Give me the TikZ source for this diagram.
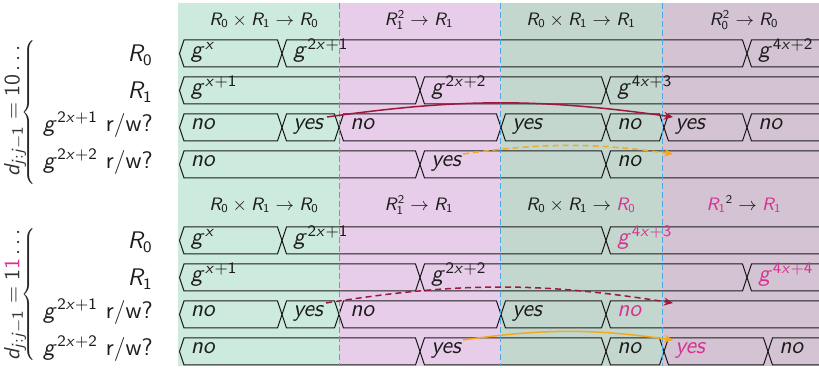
\documentclass[tikz,border=0pt]{standalone}
\usepackage{graphicx}
\usetikzlibrary{arrows.meta}

% sans-serif letters and digits in math, as on slides
\DeclareSymbolFont{sfslanted}{OT1}{cmss}{m}{sl}
\DeclareSymbolFont{sfupright}{OT1}{cmss}{m}{n}
\DeclareMathSymbol{g}{\mathalpha}{sfslanted}{`g}
\DeclareMathSymbol{x}{\mathalpha}{sfslanted}{`x}
\DeclareMathSymbol{R}{\mathalpha}{sfslanted}{`R}
\DeclareMathSymbol{d}{\mathalpha}{sfslanted}{`d}
\DeclareMathSymbol{j}{\mathalpha}{sfslanted}{`j}
\DeclareMathSymbol{0}{\mathalpha}{sfupright}{`0}
\DeclareMathSymbol{1}{\mathalpha}{sfupright}{`1}
\DeclareMathSymbol{2}{\mathalpha}{sfupright}{`2}
\DeclareMathSymbol{3}{\mathalpha}{sfupright}{`3}
\DeclareMathSymbol{4}{\mathalpha}{sfupright}{`4}

\definecolor{colA}{RGB}{205,234,222}
\definecolor{colB}{RGB}{232,205,234}
\definecolor{colC}{RGB}{195,215,207}
\definecolor{colD}{RGB}{211,195,211}
\definecolor{ink}{RGB}{28,28,28}
\definecolor{hot}{RGB}{214,50,145}
\definecolor{wine}{RGB}{160,25,60}
\definecolor{amber}{RGB}{242,170,30}
\definecolor{sky}{RGB}{70,170,225}

\newcommand\bigsans{\fontsize{12}{14}\selectfont\sffamily}
\newcommand\smallsans{\fontsize{9}{11}\selectfont\sffamily}

% one closed bus segment between two transition points
\newcommand\busseg[3]{%
  \draw[busline] ({#2},{#1}) -- ({#2+4.5},{#1-13.5}) -- ({#3-4.5},{#1-13.5})
    -- ({#3},{#1}) -- ({#3-4.5},{#1+13.5}) -- ({#2+4.5},{#1+13.5}) -- cycle;}
% last bus segment, running off the right edge
\newcommand\bustail[2]{%
  \draw[busline] (830,{#1-13.5}) -- ({#2+4.5},{#1-13.5}) -- ({#2},{#1})
    -- ({#2+4.5},{#1+13.5}) -- (830,{#1+13.5});}
% value printed in a bus segment: #1 name, #2 row centre, #3 segment start, #4 text
\newcommand\busval[4]{\node[bustext] (#1) at ({#3+11},{#2+4.5}) {#4};}
\newcommand\busword[4]{\node[bustext] (#1) at ({#3+11},{#2+2.5}) {\itshape #4};}

\begin{document}
\begin{tikzpicture}[x=0.5pt,y=-0.5pt,
  busline/.style={draw=ink, line width=0.5pt, line join=miter},
  bustext/.style={anchor=base west, inner sep=0pt, text=ink, font=\bigsans},
  rowlabel/.style={anchor=base east, inner sep=0pt, text=ink, font=\bigsans},
  header/.style={anchor=base, inner sep=0pt, text=ink, font=\smallsans},
  sidelabel/.style={rotate=90, inner sep=0pt, text=black!80, font=\fontsize{11}{13}\selectfont},
  bracebox/.style={anchor=east, inner sep=0pt, text=black!85},
  divider/.style={sky, line width=0.5pt, dash pattern=on 3pt off 1.5pt},
  flow/.style={line width=0.75pt, -{Stealth[length=4.5pt,width=4pt]}},
  flowdash/.style={flow, dash pattern=on 3pt off 2pt},
]
\useasboundingbox (0,0) rectangle (819,368);

% column backgrounds
\fill[colA] (178,3) rectangle (339,366);
\fill[colB] (339,3) rectangle (500.5,366);
\fill[colC] (500.5,3) rectangle (662,366);
\fill[colD] (662,3) rectangle (819,366);

% column headers
\node[header] (hA1) at (264,26) {$R_0\times R_1\rightarrow R_0$};
\node[header] (hB1) at (419,26) {$R_1^2\rightarrow R_1$};
\node[header] (hC1) at (581,26) {$R_0\times R_1\rightarrow R_1$};
\node[header] (hD1) at (744,26) {$R_0^2\rightarrow R_0$};
\node[header] (hA2) at (264,211) {$R_0\times R_1\rightarrow R_0$};
\node[header] (hB2) at (419,211) {$R_1^2\rightarrow R_1$};
\node[header] (hC2) at (581,211) {$R_0\times R_1\rightarrow \textcolor{hot}{R_0}$};
\node[header] (hD2) at (744,211) {$\textcolor{hot}{R_1}^2\rightarrow \textcolor{hot}{R_1}$};

% row labels
\node[rowlabel] (lR0a) at (153,62) {$R_0$};
\node[rowlabel] (lR1a) at (153,99) {$R_1$};
\node[rowlabel] (lG1a) at (153,131.5) {$g^{2x+1}$ r/w?};
\node[rowlabel] (lG2a) at (153,168.5) {$g^{2x+2}$ r/w?};
\node[rowlabel] (lR0b) at (153,249) {$R_0$};
\node[rowlabel] (lR1b) at (153,286) {$R_1$};
\node[rowlabel] (lG1b) at (153,318.5) {$g^{2x+1}$ r/w?};
\node[rowlabel] (lG2b) at (153,355.5) {$g^{2x+2}$ r/w?};

% braces and bit-pattern labels
\node[bracebox] (bTop) at (38,112.5)
  {\scalebox{0.8}[1]{$\delimitershortfall=0pt\delimiterfactor=1000\left\{\vcenter{\hrule height 34pt depth 34pt width 0pt}\right.$}};
\node[bracebox] (bBot) at (38,294.5)
  {\scalebox{0.8}[1]{$\delimitershortfall=0pt\delimiterfactor=1000\left\{\vcenter{\hrule height 32.5pt depth 32.5pt width 0pt}\right.$}};
\node[sidelabel] (dTop) at (15,111) {$d_{j:j-1} = 10\ldots$};
\node[sidelabel] (dBot) at (15,295) {$d_{j:j-1} = 1\textcolor{hot}{1}\ldots$};

\begin{scope}
\clip (0,0) rectangle (819,368);
% ---- upper schedule ----
\busseg{53.5}{179.5}{282} \busseg{53.5}{282}{747} \bustail{53.5}{747}
\busval{uA1}{53.5}{179.5}{$g^{x}$}
\busval{uA2}{53.5}{282}{$g^{2x+1}$}
\busval{uA3}{53.5}{747}{$g^{4x+2}$}

\busseg{90.5}{179.5}{420} \busseg{90.5}{420}{606} \bustail{90.5}{606}
\busval{uB1}{90.5}{179.5}{$g^{x+1}$}
\busval{uB2}{90.5}{420}{$g^{2x+2}$}
\busval{uB3}{90.5}{606}{$g^{4x+3}$}

\busseg{127.5}{179.5}{282} \busseg{127.5}{282}{339} \busseg{127.5}{339}{501}
\busseg{127.5}{501}{606} \busseg{127.5}{606}{664} \busseg{127.5}{664}{747}
\bustail{127.5}{747}
\busword{uC1}{127.5}{179.5}{no}
\busword{uC2}{127.5}{282}{yes}
\busword{uC3}{127.5}{339}{no}
\busword{uC4}{127.5}{501}{yes}
\busword{uC5}{127.5}{606}{no}
\busword{uC6}{127.5}{664}{yes}
\busword{uC7}{127.5}{747}{no}

\busseg{164.5}{179.5}{420} \busseg{164.5}{420}{606} \bustail{164.5}{606}
\busword{uD1}{164.5}{179.5}{no}
\busword{uD2}{164.5}{420}{yes}
\busword{uD3}{164.5}{606}{no}

% ---- lower schedule ----
\busseg{240.5}{179.5}{282} \busseg{240.5}{282}{606} \bustail{240.5}{606}
\busval{lA1}{240.5}{179.5}{$g^{x}$}
\busval{lA2}{240.5}{282}{$g^{2x+1}$}
\busval{lA3}{240.5}{606}{\color{hot}$g^{4x+3}$}

\busseg{277.5}{179.5}{420} \busseg{277.5}{420}{747} \bustail{277.5}{747}
\busval{lB1}{277.5}{179.5}{$g^{x+1}$}
\busval{lB2}{277.5}{420}{$g^{2x+2}$}
\busval{lB3}{277.5}{747}{\color{hot}$g^{4x+4}$}

\busseg{314.5}{179.5}{282} \busseg{314.5}{282}{339} \busseg{314.5}{339}{501}
\busseg{314.5}{501}{606} \bustail{314.5}{606}
\busword{lC1}{314.5}{179.5}{no}
\busword{lC2}{314.5}{282}{yes}
\busword{lC3}{314.5}{339}{no}
\busword{lC4}{314.5}{501}{yes}
\busword{lC5}{314.5}{606}{\color{hot}no}

\busseg{351.5}{179.5}{420} \busseg{351.5}{420}{606} \busseg{351.5}{606}{664}
\busseg{351.5}{664}{768} \bustail{351.5}{768}
\busword{lD1}{351.5}{179.5}{no}
\busword{lD2}{351.5}{420}{yes}
\busword{lD3}{351.5}{606}{no}
\busword{lD4}{351.5}{664}{\color{hot}yes}
\busword{lD5}{351.5}{768}{no}
\end{scope}

% column dividers
\draw[divider] (339,3) -- (339,366);
\draw[divider] (500.5,3) -- (500.5,366);
\draw[divider] (662,3) -- (662,366);

% data-flow arrows
\coordinate (r1s) at (327,117);   \coordinate (r1e) at (673,117);
\coordinate (o1s) at (463,154);   \coordinate (o1e) at (673,154);
\coordinate (r2s) at (326,303);   \coordinate (r2e) at (673,303);
\coordinate (o2s) at (463,340);   \coordinate (o2e) at (673,340);
\draw[flow, wine] (r1s) to[bend left=8] (r1e);
\draw[flowdash, amber] (o1s) to[bend left=8] (o1e);
\draw[flowdash, wine] (r2s) to[bend left=9] (r2e);
\draw[flow, amber] (o2s) to[bend left=8] (o2e);
\end{tikzpicture}
\end{document}
